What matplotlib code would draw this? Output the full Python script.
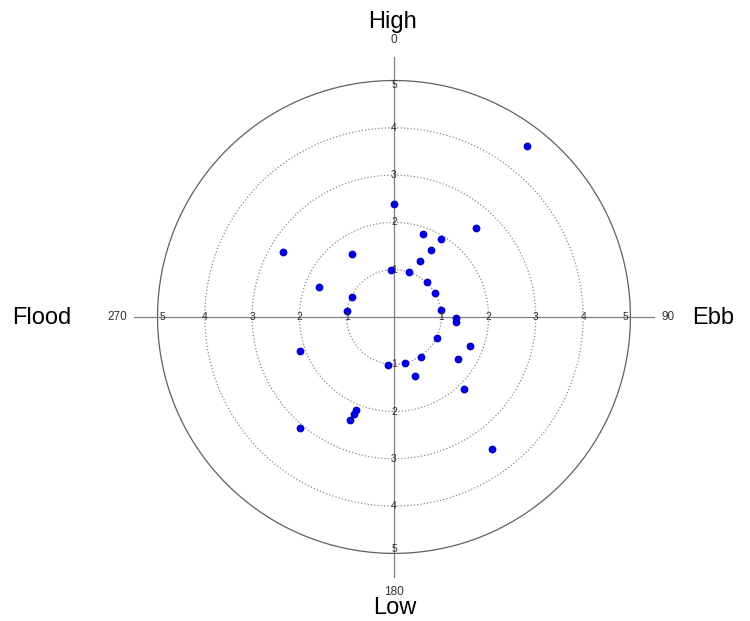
import numpy as np
import matplotlib.pyplot as plt

plt.rcParams['font.family'] = ['Liberation Sans', 'DejaVu Sans']

# current direction (deg, clockwise from north) and speed
direction = [359.8, 42.8, 19.1, 31.4, 28.5, 24.6, 356.0, 17.9, 43.8, 59.6,
             82.0, 90.9, 94.3, 115.6, 111.1, 123.7, 146.6, 166.7, 187.3, 160.5,
             135.6, 202.1, 202.4, 202.9, 220.1, 249.9, 276.9, 295.0, 291.6, 326.1,
             300.4, 37.9, 143.3]
speed = [2.38, 2.55, 1.86, 1.92, 1.62, 1.30, 1.00, 1.01, 1.01, 1.01,
         1.01, 1.32, 1.32, 1.02, 1.73, 1.62, 1.02, 1.00, 1.02, 1.32,
         2.13, 2.13, 2.23, 2.37, 3.07, 2.12, 1.00, 0.99, 1.71, 1.61,
         2.73, 4.57, 3.47]

rings = [1, 2, 3, 4, 5]
compass_deg = [0, 90, 180, 270]

fig = plt.figure(figsize=(7.5, 6.21), dpi=100)
ax = fig.add_axes([0.1533, 0.0403, 0.744, 0.8986], projection='polar')
ax.set_theta_zero_location('N')
ax.set_theta_direction(-1)
ax.set_ylim(0, 5.9)
ax.axis('off')

full = np.linspace(0, 2 * np.pi, 400)
for r in rings[:-1]:
    ax.plot(full, np.full_like(full, r), ':', color='#8a8a8a', lw=0.9)
ax.plot(full, np.full_like(full, rings[-1]), '-', color='#606060', lw=0.9)

# cross hairs through the centre
for d in compass_deg:
    ax.plot([0, np.radians(d)], [0, 5.5], '-', color='#808080', lw=0.9)

# ring values along each axis
for d in compass_deg:
    for r in rings:
        rr = r - 0.1 if r == 5 else r
        ax.text(np.radians(d), rr, str(r), ha='center', va='center',
                fontsize=7.5, color='#303030')

ax.text(0, 5.85, '0', ha='center', va='center', fontsize=8.5, color='#303030')
ax.text(np.pi, 5.82, '180', ha='center', va='center', fontsize=8.5, color='#303030')
ax.text(np.radians(90), 5.65, '90', ha='left', va='center', fontsize=8.5, color='#303030')
ax.text(np.radians(270), 5.65, '270', ha='right', va='center', fontsize=8.5, color='#303030')

ax.plot(np.radians(direction), speed, 'o', color='#0000e6', ms=4.6, mec='#0000cc')

fig.text(393 / 750, 1 - 22 / 621, 'High', ha='center', va='center', fontsize=17)
fig.text(395 / 750, 1 - 608 / 621, 'Low', ha='center', va='center', fontsize=17)
fig.text(42 / 750, 1 - 318 / 621, 'Flood', ha='center', va='center', fontsize=17)
fig.text(713 / 750, 1 - 318 / 621, 'Ebb', ha='center', va='center', fontsize=17)

fig.savefig('out.png', dpi=100)
